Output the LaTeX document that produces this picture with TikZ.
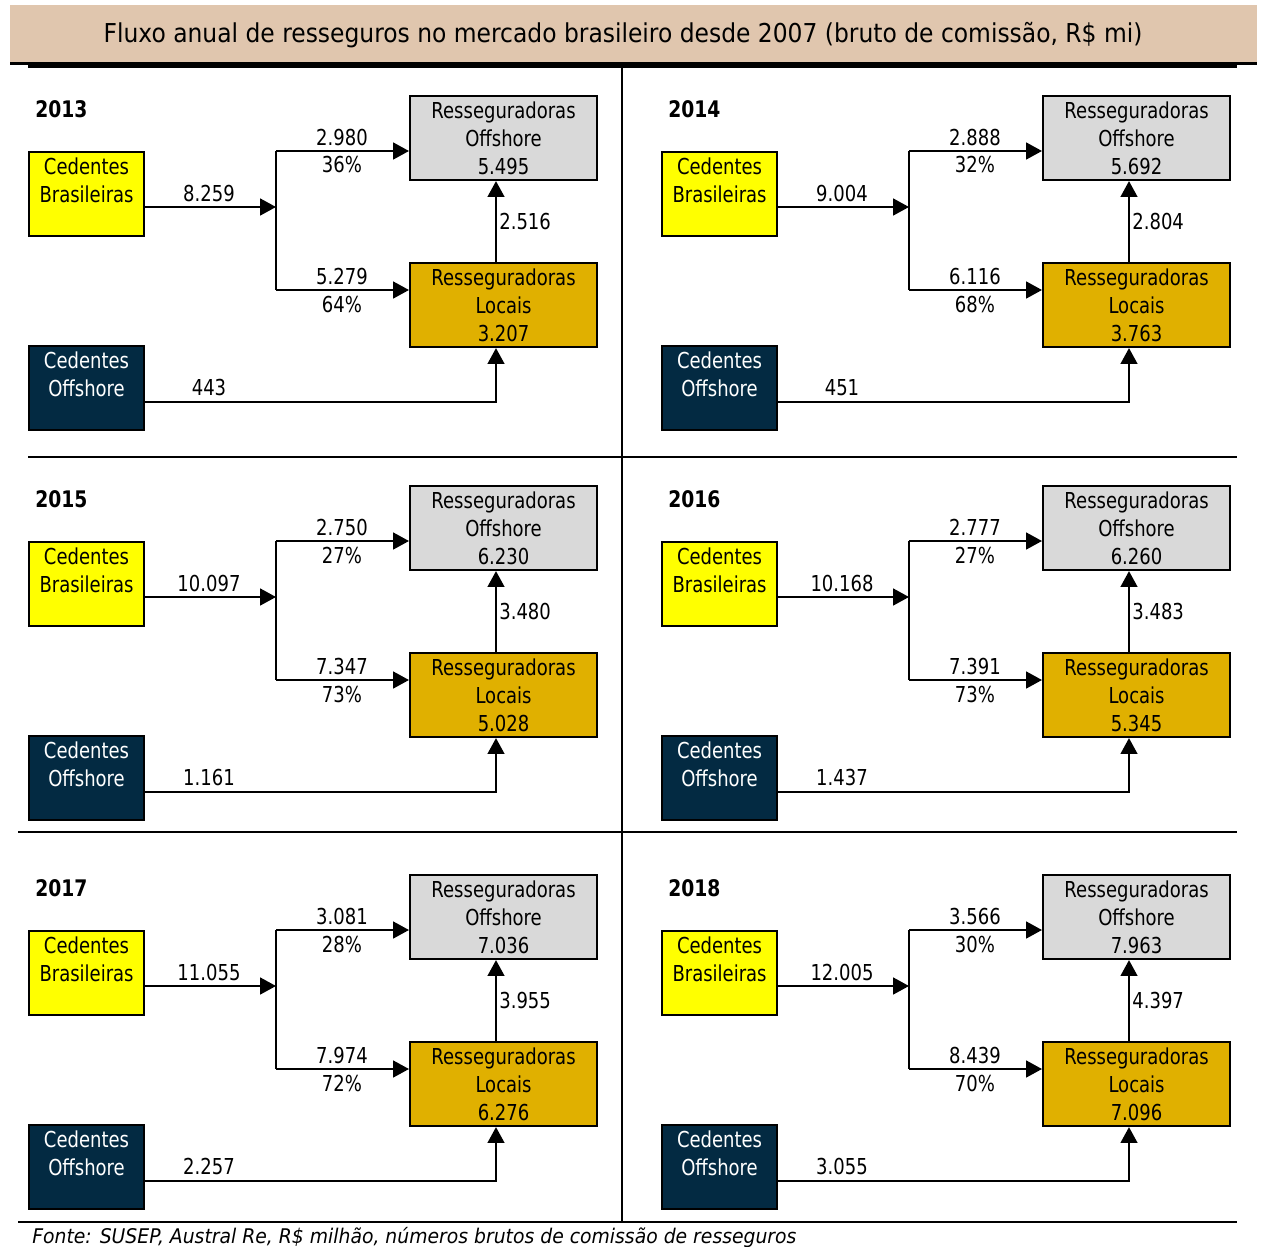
\documentclass[tikz,border=0pt]{standalone}
\usepackage{fontspec}
\setmainfont{DejaVu Sans}[FakeStretch=0.82,BoldFont={DejaVu Sans Bold},ItalicFont={DejaVu Sans Oblique}]
\usetikzlibrary{arrows.meta,positioning}
\definecolor{titlebg}{HTML}{E0C6AE}
\definecolor{cbyellow}{HTML}{FFFF00}
\definecolor{conavy}{HTML}{032A42}
\definecolor{rogray}{HTML}{D9D9D9}
\definecolor{rlgold}{HTML}{E0B000}
\newcommand{\bodyfont}{\fontsize{12.5}{15.9}\selectfont}
\newcommand{\yearfont}{\fontsize{13}{15}\selectfont\bfseries}
\tikzset{box/.style={rectangle,draw=black,line width=1.2pt,inner sep=0pt,minimum height=1.68cm,align=center,anchor=north west,font=\bodyfont},
         cedente/.style={box,minimum width=2.3cm},
         ressegur/.style={box,minimum width=3.74cm},
         flow label/.style={anchor=base,inner sep=0pt,font=\bodyfont},
         flow/.style={line width=1.2pt,-{Triangle[length=9pt,width=9.5pt]}},
         rule line/.style={line width=0.8pt}
}

\begin{document}
\begin{tikzpicture}[x=0.02cm,y=-0.02cm]
\useasboundingbox (0,0) rectangle (1264,1247);
% title band
\fill[titlebg] (10,5) rectangle (1257,62);
\node[anchor=base,inner sep=0pt,font=\fontsize{14.8}{17}\selectfont\addfontfeature{FakeStretch=0.9}] (title) at (623,43)
    {Fluxo anual de resseguros no mercado brasileiro desde 2007 (bruto de comissão, R\$ mi)};
\draw[line width=1.7pt] (10,63.5) -- (1257,63.5);
\draw[line width=1.7pt] (28,66.5) -- (1237,66.5);
% panel rules
\draw[rule line] (622,68) -- (622,1222);
\draw[rule line] (28,457) -- (1237,457);
\draw[rule line] (18,832) -- (1237,832);
\draw[rule line] (18,1222) -- (1237,1222);
% one panel per year
\foreach \yr/\dx/\dy/\tot/\tA/\pA/\tB/\pB/\vro/\vrl/\vlr/\vco in {
    2013/0/0/8.259/2.980/36/5.279/64/5.495/3.207/2.516/443,
    2014/633/0/9.004/2.888/32/6.116/68/5.692/3.763/2.804/451,
    2015/0/390/10.097/2.750/27/7.347/73/6.230/5.028/3.480/1.161,
    2016/633/390/10.168/2.777/27/7.391/73/6.260/5.345/3.483/1.437,
    2017/0/779/11.055/3.081/28/7.974/72/7.036/6.276/3.955/2.257,
    2018/633/779/12.005/3.566/30/8.439/70/7.963/7.096/4.397/3.055}{
\begin{scope}[shift={(\dx,\dy)}]
\node[anchor=base west,inner sep=0pt,font=\yearfont] (yr\yr) at (35,117) {\yr};
\node[cedente,fill=cbyellow] (cb\yr) at (28,151) {Cedentes\\Brasileiras\\\phantom{0}};
\node[cedente,fill=conavy,text=white] (co\yr) at (28,345) {Cedentes\\Offshore\\\phantom{0}};
\node[ressegur,fill=rogray] (ro\yr) at (409,95) {Resseguradoras\\Offshore\\\vro};
\node[ressegur,fill=rlgold] (rl\yr) at (409,262) {Resseguradoras\\Locais\\\vrl};
\coordinate (j\yr) at (276,207);
\coordinate (ja\yr) at (276,151);
\coordinate (jb\yr) at (276,290);
\coordinate (k\yr) at (496,402);
\draw[flow] (cb\yr.east |- j\yr) -- (j\yr);
\draw[line width=1.2pt] (ja\yr) -- (jb\yr);
\draw[flow] (ja\yr) -- (ja\yr -| ro\yr.west);
\draw[flow] (jb\yr) -- (jb\yr -| rl\yr.west);
\draw[flow] (k\yr |- rl\yr.north) -- (k\yr |- ro\yr.south);
\draw[flow] (co\yr.east |- k\yr) -- (k\yr) -- (k\yr |- rl\yr.south);
\node[flow label] (lt\yr) at (209,201) {\tot};
\node[flow label] (la\yr) at (342,145) {\tA};
\node[flow label] (pa\yr) at (342,173) {\pA\%};
\node[flow label] (lb\yr) at (342,284) {\tB};
\node[flow label] (pb\yr) at (342,312) {\pB\%};
\node[flow label,anchor=base west] (lm\yr) at (499,229) {\vlr};
\node[flow label] (lc\yr) at (209,395) {\vco};
\end{scope}
}
% source
\node[anchor=base west,inner sep=0pt,font=\fontsize{11.5}{13}\selectfont\itshape\addfontfeature{FakeStretch=0.93}] (fonte) at (32,1243)
    {Fonte: SUSEP, Austral Re, R\$ milhão, números brutos de comissão de resseguros};
\end{tikzpicture}
\end{document}
